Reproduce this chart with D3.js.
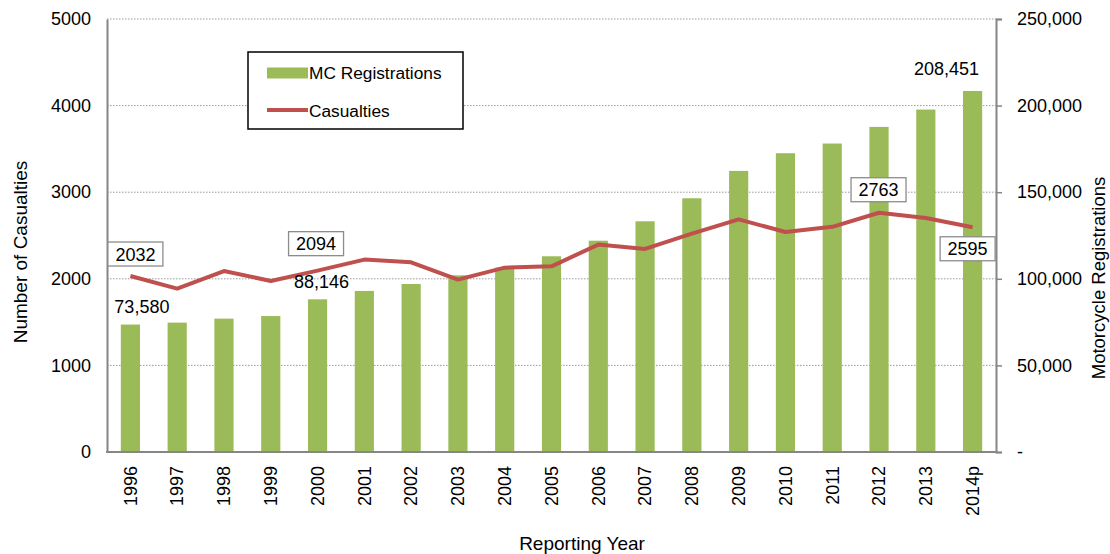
<!DOCTYPE html>
<html>
<head>
<meta charset="utf-8">
<script src="https://cdn.jsdelivr.net/npm/d3@7"></script>
<style>
  body { margin: 0; background: #fff; }
  svg text { font-family: "Liberation Sans", Arial, sans-serif; fill: #000; }
</style>
</head>
<body>
<svg id="chart" width="1110" height="554"></svg>
<script>
const years = ["1996", "1997", "1998", "1999", "2000", "2001", "2002", "2003", "2004", "2005",
  "2006", "2007", "2008", "2009", "2010", "2011", "2012", "2013", "2014p"];
const registrations = [73580, 74700, 77000, 78500, 88146, 93000, 97000, 102000, 106500, 113000,
  122000, 133200, 146500, 162300, 172500, 178100, 187700, 197700, 208451];
const casualties = [2032, 1887, 2090, 1975, 2094, 2222, 2190, 1991, 2129, 2144,
  2395, 2345, 2522, 2687, 2540, 2600, 2763, 2702, 2595];
const leftTicks = [0, 1000, 2000, 3000, 4000, 5000];
const rightTicks = [0, 50000, 100000, 150000, 200000, 250000];

// which points get a boxed casualty label, and which bars get a value label
const casualtyLabels = [
  { year: "1996", dx: 5, dy: -22 },
  { year: "2000", dx: -1.5, dy: -27 },
  { year: "2012", dx: -0.5, dy: -23 },
  { year: "2014p", dx: -5, dy: 21.5 }
];
const regLabels = [
  { year: "1996", dx: 11.5, dy: -18 },
  { year: "2000", dx: 4, dy: -17.5 },
  { year: "2014p", dx: -26, dy: -22 }
];

const green = "#9BBB59";
const red = "#C0504D";
const axisGrey = "#868686";

const svg = d3.select("#chart");
const plotL = 107, plotR = 996, plotT = 19, plotB = 452;

const x = d3.scaleBand().domain(years).range([plotL, plotR]).paddingInner(0.59).paddingOuter(0.295);
const yL = d3.scaleLinear().domain([0, 5000]).range([plotB, plotT]);
const yR = d3.scaleLinear().domain([0, 250000]).range([plotB, plotT]);
const cx = (d) => x(d) + x.bandwidth() / 2;

// gridlines
svg.append("g")
  .selectAll("line")
  .data(leftTicks.filter((d) => d > 0))
  .join("line")
  .attr("x1", plotL)
  .attr("x2", plotR)
  .attr("y1", (d) => yL(d))
  .attr("y2", (d) => yL(d))
  .attr("stroke", "#9a9a9a")
  .attr("stroke-width", 1)
  .attr("stroke-dasharray", "1.5,1.5");

// bars
svg.append("g")
  .selectAll("rect")
  .data(years)
  .join("rect")
  .attr("x", (d) => x(d))
  .attr("width", x.bandwidth())
  .attr("y", (d, i) => yR(registrations[i]))
  .attr("height", (d, i) => plotB - yR(registrations[i]))
  .attr("fill", green);

// casualties line
const line = d3.line()
  .x((d, i) => cx(years[i]))
  .y((d) => yL(d));

svg.append("path")
  .datum(casualties)
  .attr("d", line)
  .attr("fill", "none")
  .attr("stroke", red)
  .attr("stroke-width", 4)
  .attr("stroke-linejoin", "round");

// axes
const leftAxis = svg.append("g")
  .attr("transform", `translate(${plotL},0)`)
  .call(d3.axisLeft(yL).tickValues(leftTicks).tickSize(0).tickPadding(16).tickFormat(d3.format("d")));
leftAxis.select(".domain").attr("stroke", axisGrey).attr("stroke-width", 2);
leftAxis.selectAll("text").style("font-size", "18px");

const rightAxis = svg.append("g")
  .attr("transform", `translate(${plotR},0)`)
  .call(d3.axisRight(yR).tickValues(rightTicks).tickSize(6).tickPadding(15)
    .tickFormat((d) => (d === 0 ? "-" : d3.format(",")(d))));
rightAxis.select(".domain").attr("stroke", axisGrey).attr("stroke-width", 2);
rightAxis.selectAll(".tick line").attr("stroke", axisGrey).attr("stroke-width", 1.5);
rightAxis.selectAll("text").style("font-size", "18px");

const bottomAxis = svg.append("g")
  .attr("transform", `translate(0,${plotB})`)
  .call(d3.axisBottom(x).tickSize(0).tickSizeOuter(0));
bottomAxis.select(".domain").attr("stroke", axisGrey).attr("stroke-width", 2)
  .attr("d", `M${plotL - 1},0H${plotR + 1}`);
bottomAxis.selectAll("text")
  .style("font-size", "18px")
  .attr("transform", "rotate(-90)")
  .attr("text-anchor", "end")
  .attr("x", -14)
  .attr("y", 0)
  .attr("dx", 0)
  .attr("dy", "0.35em");

// axis titles
svg.append("text")
  .attr("transform", "translate(20,252) rotate(-90)")
  .attr("text-anchor", "middle")
  .attr("dy", "0.35em")
  .style("font-size", "19px")
  .text("Number of Casualties");

svg.append("text")
  .attr("transform", "translate(1099,278) rotate(-90)")
  .attr("text-anchor", "middle")
  .attr("dy", "0.3em")
  .style("font-size", "18.5px")
  .text("Motorcycle Registrations");

svg.append("text")
  .attr("x", 582)
  .attr("y", 543)
  .attr("text-anchor", "middle")
  .attr("dy", "0.35em")
  .style("font-size", "19px")
  .text("Reporting Year");

// boxed casualty labels
const cLab = svg.append("g")
  .selectAll("g")
  .data(casualtyLabels)
  .join("g")
  .attr("transform", (d) => {
    const i = years.indexOf(d.year);
    return `translate(${cx(d.year) + d.dx},${yL(casualties[i]) + d.dy})`;
  });
cLab.append("rect")
  .attr("x", -27.5)
  .attr("y", -12)
  .attr("width", 55)
  .attr("height", 24)
  .attr("fill", "#fff")
  .attr("stroke", "#8c8c8c")
  .attr("stroke-width", 1.3);
cLab.append("text")
  .attr("text-anchor", "middle")
  .attr("dy", "0.36em")
  .style("font-size", "18px")
  .text((d) => casualties[years.indexOf(d.year)]);

// registration value labels
svg.append("g")
  .selectAll("text")
  .data(regLabels)
  .join("text")
  .attr("x", (d) => cx(d.year) + d.dx)
  .attr("y", (d) => yR(registrations[years.indexOf(d.year)]) + d.dy)
  .attr("text-anchor", "middle")
  .attr("dy", "0.35em")
  .style("font-size", "18px")
  .text((d) => d3.format(",")(registrations[years.indexOf(d.year)]));

// legend
const legend = svg.append("g").attr("transform", "translate(248,52)");
legend.append("rect")
  .attr("width", 215)
  .attr("height", 77)
  .attr("fill", "#fff")
  .attr("stroke", "#000")
  .attr("stroke-width", 1.5);
legend.append("rect")
  .attr("x", 19)
  .attr("y", 15.5)
  .attr("width", 41)
  .attr("height", 11)
  .attr("fill", green);
legend.append("line")
  .attr("x1", 19)
  .attr("x2", 60)
  .attr("y1", 58)
  .attr("y2", 58)
  .attr("stroke", red)
  .attr("stroke-width", 4);
legend.append("text")
  .attr("x", 61)
  .attr("y", 21)
  .attr("dy", "0.35em")
  .style("font-size", "17.3px")
  .text("MC Registrations");
legend.append("text")
  .attr("x", 61)
  .attr("y", 59)
  .attr("dy", "0.35em")
  .style("font-size", "17.3px")
  .text("Casualties");
</script>
</body>
</html>
